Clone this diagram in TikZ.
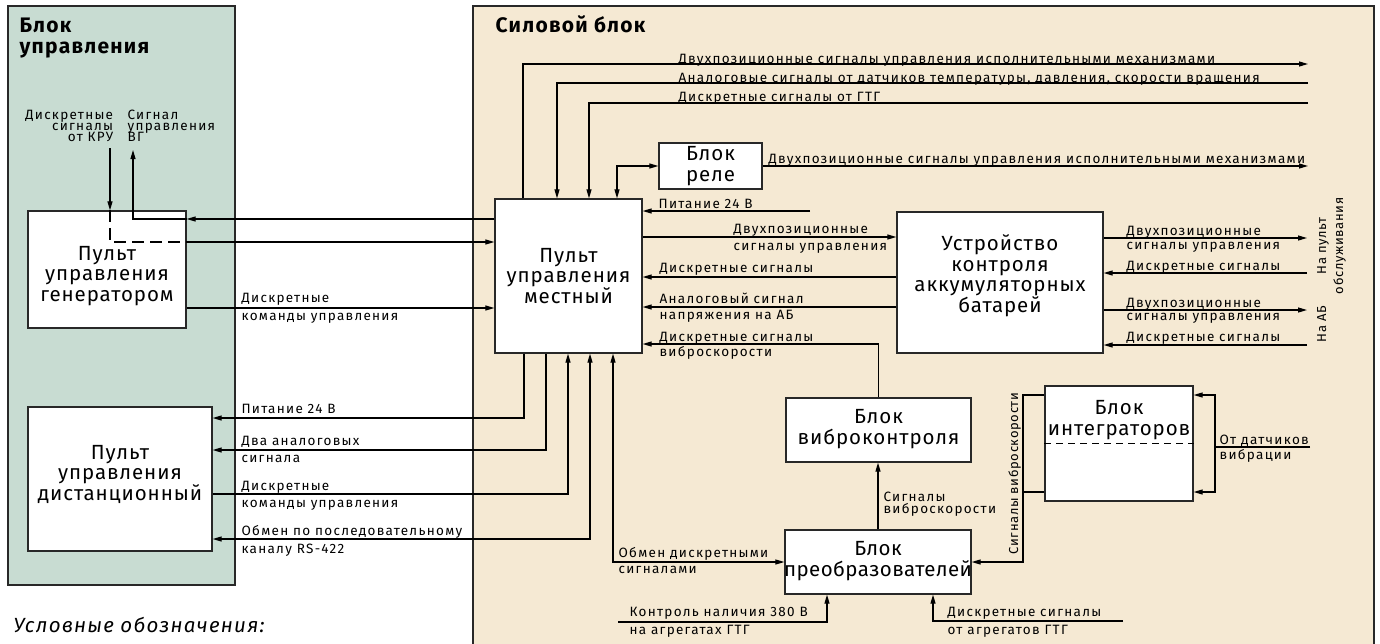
\documentclass[tikz,border=0pt]{standalone}
\usepackage{fontspec}
\setmainfont{Fira Sans}
\newfontfamily\lblf[LetterSpace=9.5]{Fira Sans}
\newfontfamily\rotf[LetterSpace=5]{Fira Sans}
\newfontfamily\blkf[LetterSpace=4.5]{Fira Sans}
\newfontfamily\blkn[LetterSpace=2]{Fira Sans}
\newfontfamily\hdf[LetterSpace=6]{Fira Sans}
\newfontfamily\itf[LetterSpace=6]{Fira Sans}
\usetikzlibrary{arrows.meta}
\definecolor{grn}{RGB}{200,220,210}
\definecolor{bei}{RGB}{245,233,211}
\definecolor{edge}{RGB}{40,40,40}
\newcommand\li[1]{\hbox{#1}}
\newcommand\lr[1]{\hbox to 0pt{\hss#1}}
\newcommand\lc[1]{\hbox to 0pt{\hss#1\hss}}
\newcommand\stk[2]{\vtop{\baselineskip=#1pt\lineskiplimit=-99pt #2}}
\begin{document}
\begin{tikzpicture}[x=1pt,y=-1pt, line width=1.2pt,
  box/.style={draw=edge, fill=white, line width=1.3pt, inner sep=0pt},
  blk/.style={font=\blkf\fontsize{20.5}{20.5}\selectfont, align=center, inner sep=0pt},
  lbl/.style={font=\lblf\fontsize{13.5}{15}\selectfont, inner sep=0pt, anchor=base west},
  rlbl/.style={font=\rotf\fontsize{13}{15}\selectfont, inner sep=0pt, anchor=base west, rotate=90},
  hd/.style={font=\hdf\bfseries\fontsize{21}{21}\selectfont, inner sep=0pt, anchor=base west},
  arr/.style={-{Triangle[length=9pt,width=5pt]}},
  arrb/.style={{Triangle[length=9pt,width=5pt]}-{Triangle[length=9pt,width=5pt]}},
]
\useasboundingbox (0,0) rectangle (1380,643);
\clip (0,0) rectangle (1380,643);
\fill[white] (0,0) rectangle (1380,643);
% panels
\filldraw[fill=grn, draw=edge, line width=1.3pt] (8,6) rectangle (235,585);
\filldraw[fill=bei, draw=edge, line width=1.3pt] (473,6) rectangle (1374,660);
% boxes
\node[box, minimum width=158, minimum height=117] (gen) at (107,269.5) {};
\node[box, minimum width=184, minimum height=144] (dist) at (120,479) {};
\node[box, minimum width=147, minimum height=154] (pm) at (568.5,276) {};
\node[box, minimum width=103, minimum height=46] (rele) at (710.5,166) {};
\node[box, minimum width=206, minimum height=141] (uk) at (1000,282.5) {};
\node[box, minimum width=185, minimum height=64] (vibro) at (878.5,430) {};
\node[box, minimum width=186, minimum height=64] (preob) at (878,562) {};
\node[box, minimum width=148, minimum height=115] (integ) at (1119,443.5) {};
% free ends
\coordinate (kru) at (110,148);
\coordinate (vg) at (133,150);
\coordinate (t1) at (1308,64);
\coordinate (t2) at (1308,83);
\coordinate (t3) at (1308,103);
\coordinate (t4) at (1308,166);
\coordinate (p24) at (810,211);
\coordinate (r1) at (1307,238);
\coordinate (r2) at (1307,273);
\coordinate (r3) at (1307,310);
\coordinate (r4) at (1307,345);
\coordinate (k380) at (618,622);
\coordinate (kggt) at (1123,621);
\coordinate (vib) at (1310,447);
\coordinate (jr) at (1215,447);
\coordinate (jl) at (1023,492);
% connectors: left block
\draw[arr] (kru) -- (gen.north -| kru);
\draw[dash pattern=on 12pt off 6pt] (gen.north -| kru) |- (gen.east |- 0,242);
\draw[arr] (gen.east |- 0,242) -- (pm.west |- 0,242);
\draw[arr] (pm.west |- 0,219) -- (gen.east |- 0,219);
\draw[arr] (gen.east |- 0,219) -| (vg);
\draw[arr] (gen.east |- 0,308) -- (pm.west |- 0,308);
\draw[arr] (pm.south -| 524,0) |- (dist.east |- 0,418);
\draw[arr] (pm.south -| 546,0) |- (dist.east |- 0,450);
\draw[arr] (dist.east |- 0,494) -| (pm.south -| 568,0);
\draw[arrb] (dist.east |- 0,539) -| (pm.south -| 590,0);
\draw[arrb] (pm.south -| 613,0) |- (preob.west);
% top
\draw[arr] (pm.north -| 523,0) |- (t1);
\draw[arr] (t2) -| (pm.north -| 557,0);
\draw[arr] (t3) -| (pm.north -| 589,0);
\draw[arrb] (pm.north -| 617,0) |- (rele.west);
\draw[arr] (rele.east) -- (t4);
\draw[arr] (p24) -- (pm.east |- p24);
% pm - uk
\draw[arr] (pm.east |- 0,237) -- (uk.west |- 0,237);
\draw[arr] (uk.west |- 0,277) -- (pm.east |- 0,277);
\draw[arr] (uk.west |- 0,307) -- (pm.east |- 0,307);
\draw[arr] (vibro.north) |- (pm.east |- 0,344);
% uk right
\draw[arr] (uk.east |- r1) -- (r1);
\draw[arr] (r2) -- (uk.east |- r2);
\draw[arr] (uk.east |- r3) -- (r3);
\draw[arr] (r4) -- (uk.east |- r4);
% lower
\draw[arr] (preob.north) -- (preob.north |- vibro.south);
\draw[arr] (k380) -| (preob.south -| 827,0);
\draw[arr] (kggt) -| (preob.south -| 933,0);
\draw[arr] (integ.west |- 0,395) -| (jl |- preob.east) -- (preob.east);
\draw (integ.west |- jl) -- (jl);
\draw[arr] (vib) -- (jr) |- (integ.east |- 0,395);
\draw[arr] (jr) |- (integ.east |- 0,492);
\draw[line width=1pt, dash pattern=on 7pt off 5pt] (integ.west |- 0,443) -- (integ.east |- 0,443);
% block texts
\node[blk] (tgen) at (107,276) {Пульт\\управления\\генератором};
\node[blk] (tdist) at (120,474) {Пульт\\управления\\дистанционный};
\node[blk] (tpm) at (568.5,276) {Пульт\\управления\\местный};
\node[blk] (trele) at (710.5,166) {Блок\\реле};
\node[blk] (tuk) at (1000,276) {Устройство\\контроля\\аккумуляторных\\батарей};
\node[blk] (tvibro) at (878.5,429) {Блок\\виброконтроля};
\node[blk, font=\blkn\fontsize{20.5}{20.5}\selectfont] (tpreob) at (878,561) {Блок\\преобразователей};
\node[blk] (tinteg) at (1119,420) {Блок\\интеграторов};
% headings
\node[hd] (h1) at (19,32) {\stk{21}{\li{Блок}\li{управления}}};
\node[hd] (h2) at (495,32) {Силовой блок};
\node[font=\itf\itshape\fontsize{20.5}{24}\selectfont, inner sep=0pt, anchor=base west] (leg) at (13,632) {Условные обозначения:};
% labels
\node[lbl] at (112,119) {\stk{11.3}{\lr{Дискретные}\lr{сигналы}\lr{от КРУ}}};
\node[lbl] at (127,119) {\stk{11.3}{\li{Сигнал}\li{управления}\li{ВГ}}};
\node[lbl] at (241,302) {\stk{18}{\li{Дискретные}\li{команды управления}}};
\node[lbl] at (241,413) {Питание 24 В};
\node[lbl] at (241,445) {\stk{17.7}{\li{Два аналоговых}\li{сигнала}}};
\node[lbl] at (241,490) {\stk{17.7}{\li{Дискретные}\li{команды управления}}};
\node[lbl] at (241,535.5) {\stk{17.7}{\li{Обмен по последовательному}\li{каналу RS-422}}};
\node[lbl] at (678,63) {Двухпозиционные сигналы управления исполнительными механизмами};
\node[lbl] at (678,82) {Аналоговые сигналы от датчиков температуры, давления, скорости вращения};
\node[lbl] at (678,101) {Дискретные сигналы от ГТГ};
\node[lbl] at (768,163) {Двухпозиционные сигналы управления исполнительными механизмами};
\node[lbl] at (658,208) {Питание 24 В};
\node[lbl] at (733,233) {\stk{17}{\li{Двухпозиционные}\li{сигналы управления}}};
\node[lbl] at (659,272) {Дискретные сигналы};
\node[lbl] at (659,303) {\stk{16.5}{\li{Аналоговый сигнал}\li{напряжения на АБ}}};
\node[lbl] at (659,341) {\stk{15.5}{\li{Дискретные сигналы}\li{виброскорости}}};
\node[lbl] at (1126,235) {\stk{14}{\li{Двухпозиционные}\li{сигналы управления}}};
\node[lbl] at (1126,270) {Дискретные сигналы};
\node[lbl] at (1126,307) {\stk{13.5}{\li{Двухпозиционные}\li{сигналы управления}}};
\node[lbl] at (1126,341) {Дискретные сигналы};
\node[rlbl] at (1326,247) {\stk{17}{\lc{На пульт}\lc{обслуживания}}};
\node[rlbl] at (1326,325) {\lc{На АБ}};
\node[lbl] at (618,557) {\stk{16}{\li{Обмен дискретными}\li{сигналами}}};
\node[lbl] at (883,501) {\stk{12.5}{\li{Сигналы}\li{виброскорости}}};
\node[lbl] at (629,616.5) {\stk{17.5}{\li{Контроль наличия 380 В}\li{на агрегатах ГТГ}}};
\node[lbl] at (947,616.5) {\stk{17.5}{\li{Дискретные сигналы}\li{от агрегатов ГТГ}}};
\node[lbl] at (1219,444) {\stk{15.5}{\li{От датчиков}\li{вибрации}}};
\node[rlbl] at (1018,555) {Сигналы виброскорости};
\end{tikzpicture}
\end{document}
